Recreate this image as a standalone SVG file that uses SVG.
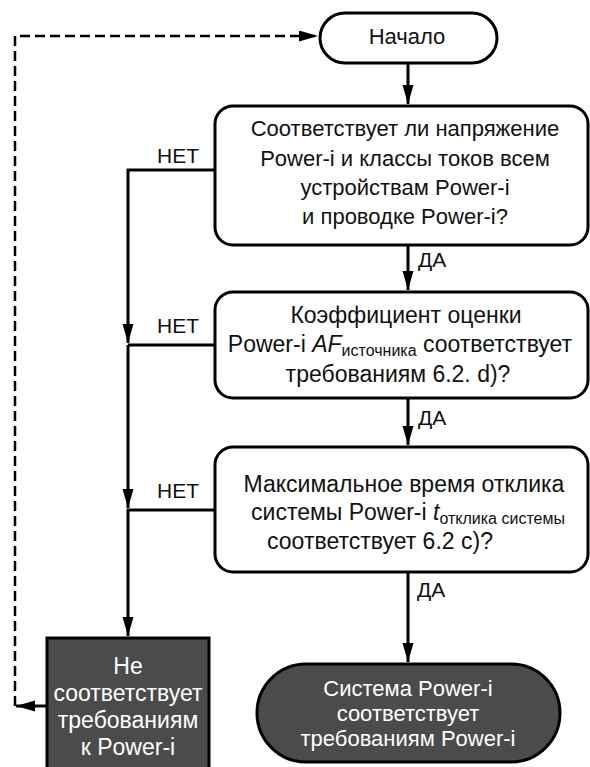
<svg xmlns="http://www.w3.org/2000/svg" width="590" height="767" viewBox="0 0 590 767">
<defs>
<marker id="ah" markerUnits="userSpaceOnUse" markerWidth="22" markerHeight="12" refX="19" refY="5.5" orient="auto">
<path d="M0,0 L19,5.5 L0,11 Z" fill="#000"/>
</marker>
<style>
.t{font-family:"Liberation Sans",Arial,sans-serif;font-size:22px;fill:#111;text-anchor:middle}
.m{font-size:23px}
.lab{font-size:21px;text-anchor:start}
.w{fill:#fff;font-size:23px}
.p{font-size:22px}
.sub{font-size:16px}
.box{fill:#fff;stroke:#000;stroke-width:3}
.dark{fill:#4b4b4b;stroke:#000;stroke-width:3}
.c{fill:none;stroke:#000;stroke-width:3}
.d{fill:none;stroke:#000;stroke-width:2.5;stroke-dasharray:10 5}
</style>
</defs>
<rect width="590" height="767" fill="#fff"/>

<g id="connectors">
<path class="c" d="M408,63 V104" marker-end="url(#ah)"/>
<path class="c" d="M408,245 V290" marker-end="url(#ah)"/>
<path class="c" d="M408,398 V445" marker-end="url(#ah)"/>
<path class="c" d="M408,572 V662" marker-end="url(#ah)"/>
<path class="c" d="M215,170 H128 V343" marker-end="url(#ah)"/>
<path class="c" d="M215,345 H128"/>
<path class="c" d="M128,345 V508" marker-end="url(#ah)"/>
<path class="c" d="M215,510 H128 V636" marker-end="url(#ah)"/>
<path class="c" d="M47,706 H16" marker-end="url(#ah)"/>
<path class="d" d="M15,706 V36 H318" marker-end="url(#ah)"/>
<text class="t lab" x="418" y="267">ДА</text>
<text class="t lab" x="418" y="425">ДА</text>
<text class="t lab" x="417" y="597">ДА</text>
<text class="t lab" x="157" y="163">НЕТ</text>
<text class="t lab" x="157" y="333">НЕТ</text>
<text class="t lab" x="157" y="498">НЕТ</text>
</g>

<g id="start">
<rect class="box" x="320" y="13" width="177" height="50" rx="25"/>
<text class="t" x="407" y="44" font-size="22.5">Начало</text>
</g>

<g id="q1">
<rect class="box" x="215" y="106" width="373" height="139" rx="18"/>
<text class="t" x="405" y="136">Соответствует ли напряжение</text>
<text class="t" x="405" y="166">Power-i и классы токов всем</text>
<text class="t" x="405" y="195">устройствам Power-i</text>
<text class="t" x="405" y="224">и проводке Power-i?</text>
</g>

<g id="q2">
<rect class="box" x="215" y="292" width="373" height="106" rx="18"/>
<text class="t m" x="406" y="323">Коэффициент оценки</text>
<text class="t m" x="400" y="352">Power-i <tspan font-style="italic">AF</tspan><tspan class="sub" dy="4">источника</tspan><tspan dy="-4"> соответствует</tspan></text>
<text class="t m" x="398" y="382">требованиям 6.2. d)?</text>
</g>

<g id="q3">
<rect class="box" x="215" y="447" width="373" height="125" rx="18"/>
<text class="t m" x="404" y="492">Максимальное время отклика</text>
<text class="t m" x="408" y="520">системы Power-i <tspan font-style="italic">t</tspan><tspan class="sub" dy="4">отклика системы</tspan></text>
<text class="t m" x="380" y="549">соответствует 6.2 с)?</text>
</g>

<g id="fail">
<rect class="dark" x="47" y="638" width="162" height="140"/>
<text class="t w" x="128" y="674">Не</text>
<text class="t w" x="128" y="701">соответствует</text>
<text class="t w" x="128" y="728">требованиям</text>
<text class="t w" x="128" y="755">к Power-i</text>
</g>

<g id="pass">
<rect class="dark" x="257" y="664" width="303" height="98" rx="49"/>
<text class="t w p" x="408" y="696">Система Power-i</text>
<text class="t w p" x="408" y="721">соответствует</text>
<text class="t w p" x="408" y="746">требованиям Power-i</text>
</g>
</svg>
